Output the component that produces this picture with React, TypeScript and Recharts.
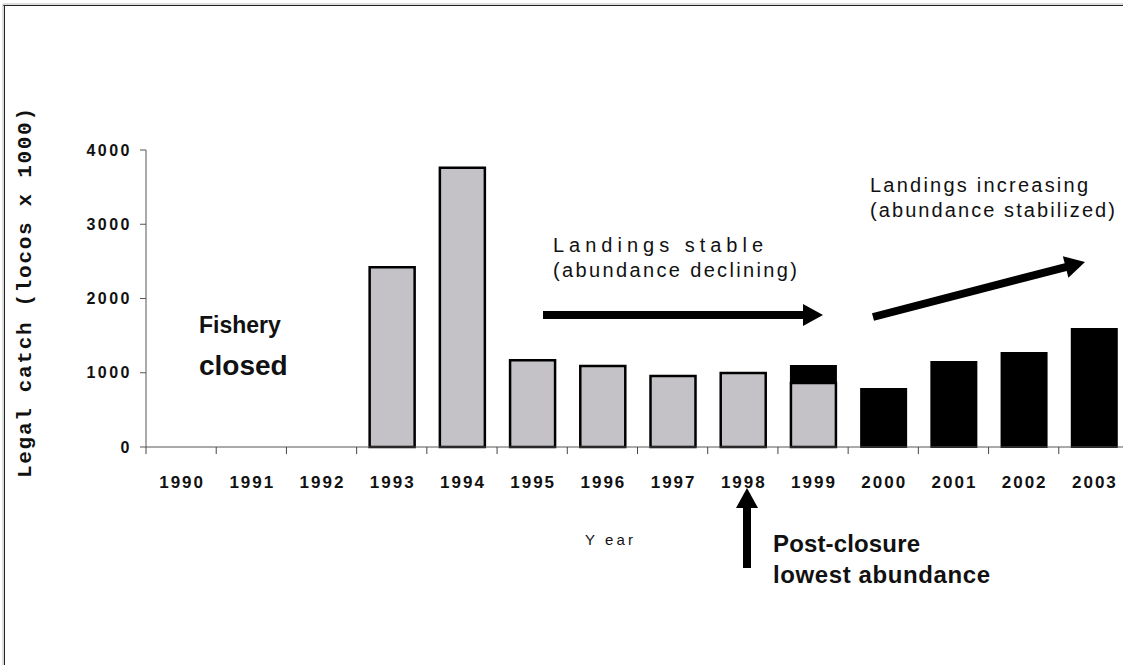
import React from "react";
import { BarChart, Bar, XAxis, YAxis } from "recharts";

// Legal catch of locos (x 1000) by year
const years = ["1990", "1991", "1992", "1993", "1994", "1995", "1996", "1997", "1998", "1999", "2000", "2001", "2002", "2003"];
// grey part: catch up to the 1999 season
const greyCatch = [null, null, null, 2420, 3760, 1170, 1090, 955, 995, 862, null, null, null, null];
// black part: catch after the closure recovery
const blackCatch = [null, null, null, null, null, null, null, null, null, 229, 780, 1145, 1265, 1590];
const yTicks = [0, 1000, 2000, 3000, 4000];

const FONT = "'Liberation Sans', Arial, sans-serif";
const PLOT_LEFT = 146;
const PLOT_RIGHT = 1129;
const BAND = (PLOT_RIGHT - PLOT_LEFT) / years.length;

const data = years.map((year, i) => ({
  year,
  grey: greyCatch[i],
  black: blackCatch[i],
}));

function YearTick(props: any) {
  const { x, y, payload } = props;
  return (
    <g>
      <line x1={x - BAND / 2} x2={x - BAND / 2} y1={y} y2={y + 7} stroke="#444" strokeWidth={1} />
      <text x={x + 1} y={y + 41} textAnchor="middle" fontFamily={FONT} fontSize={17} fontWeight="bold" letterSpacing={2} fill="#111">
        {payload.value}
      </text>
    </g>
  );
}

// arrow as shaft + triangular head
function Arrow({ x1, y1, x2, y2 }: { x1: number; y1: number; x2: number; y2: number }) {
  const len = Math.hypot(x2 - x1, y2 - y1);
  const ux = (x2 - x1) / len;
  const uy = (y2 - y1) / len;
  const headLen = 20;
  const headHalf = 11;
  const bx = x2 - ux * headLen;
  const by = y2 - uy * headLen;
  const px = -uy;
  const py = ux;
  return (
    <g>
      <line x1={x1} y1={y1} x2={bx + ux * 2} y2={by + uy * 2} stroke="#000" strokeWidth={8} />
      <polygon
        points={`${x2},${y2} ${bx + px * headHalf},${by + py * headHalf} ${bx - px * headHalf},${by - py * headHalf}`}
        fill="#000"
      />
    </g>
  );
}

export default function App() {
  return (
    <div style={{ position: "absolute", left: 0, top: 0, width: 1123, height: 665, overflow: "hidden", background: "#fff" }}>
      <div style={{ position: "absolute", left: 0, top: 0 }}>
        <BarChart
          width={PLOT_RIGHT + 6}
          height={665}
          data={data}
          margin={{ top: 150, right: 6, left: 0, bottom: 188 }}
          barSize={45}
        >
          <XAxis
            dataKey="year"
            height={30}
            interval={0}
            tickSize={0}
            tickMargin={0}
            tickLine={false}
            axisLine={{ stroke: "#555", strokeWidth: 1 }}
            tick={<YearTick />}
          />
          <YAxis
            domain={[0, 4000]}
            ticks={yTicks}
            interval={0}
            width={PLOT_LEFT}
            tickSize={6}
            tickMargin={8}
            axisLine={{ stroke: "#555", strokeWidth: 1 }}
            tickLine={{ stroke: "#555" }}
            tick={{ fontSize: 16, fontWeight: "bold", fill: "#111", fontFamily: FONT, letterSpacing: 2.5 }}
          />
          <Bar dataKey="grey" stackId="catch" fill="#c4c2c6" stroke="#000" strokeWidth={2.5} isAnimationActive={false} />
          <Bar dataKey="black" stackId="catch" fill="#000" stroke="#000" strokeWidth={2} isAnimationActive={false} />
        </BarChart>
      </div>

      <svg width={1123} height={665} style={{ position: "absolute", left: 0, top: 0, pointerEvents: "none" }}>
        {/* frame */}
        <line x1={3} y1={4} x2={1123} y2={4} stroke="#bbb" strokeWidth={1} />
        <line x1={3} y1={5.5} x2={1123} y2={5.5} stroke="#222" strokeWidth={1} />
        <line x1={3} y1={4} x2={3} y2={665} stroke="#bbb" strokeWidth={1} />
        <line x1={4.5} y1={5.5} x2={4.5} y2={665} stroke="#222" strokeWidth={1} />

        <text
          transform="translate(31,293) rotate(-90)"
          textAnchor="middle"
          fontFamily="'Liberation Mono', monospace"
          fontWeight="bold"
          fontSize={21}
          textLength={370}
          lengthAdjust="spacing"
          fill="#111"
        >
          Legal catch (locos x 1000)
        </text>

        <g fontFamily={FONT} fill="#111">
          <text x={199} y={333} fontSize={23} fontWeight="bold">Fishery</text>
          <text x={199} y={375} fontSize={28} fontWeight="bold">closed</text>

          <text x={553} y={252} fontSize={20} textLength={210} lengthAdjust="spacing">Landings stable</text>
          <text x={553} y={277} fontSize={20} textLength={244} lengthAdjust="spacing">(abundance declining)</text>

          <text x={870} y={192} fontSize={20} textLength={218} lengthAdjust="spacing">Landings increasing</text>
          <text x={870} y={217} fontSize={20} textLength={245} lengthAdjust="spacing">(abundance stabilized)</text>

          <text x={585} y={545} fontSize={15} textLength={48} lengthAdjust="spacing">Y ear</text>

          <text x={773} y={552} fontSize={24} fontWeight="bold" textLength={147} lengthAdjust="spacing">Post-closure</text>
          <text x={773} y={583} fontSize={24} fontWeight="bold" textLength={217} lengthAdjust="spacing">lowest abundance</text>
        </g>

        <Arrow x1={543} y1={315} x2={823} y2={315} />
        <Arrow x1={873} y1={317} x2={1085} y2={262} />
        <Arrow x1={747} y1={568} x2={747} y2={488} />
      </svg>
    </div>
  );
}
